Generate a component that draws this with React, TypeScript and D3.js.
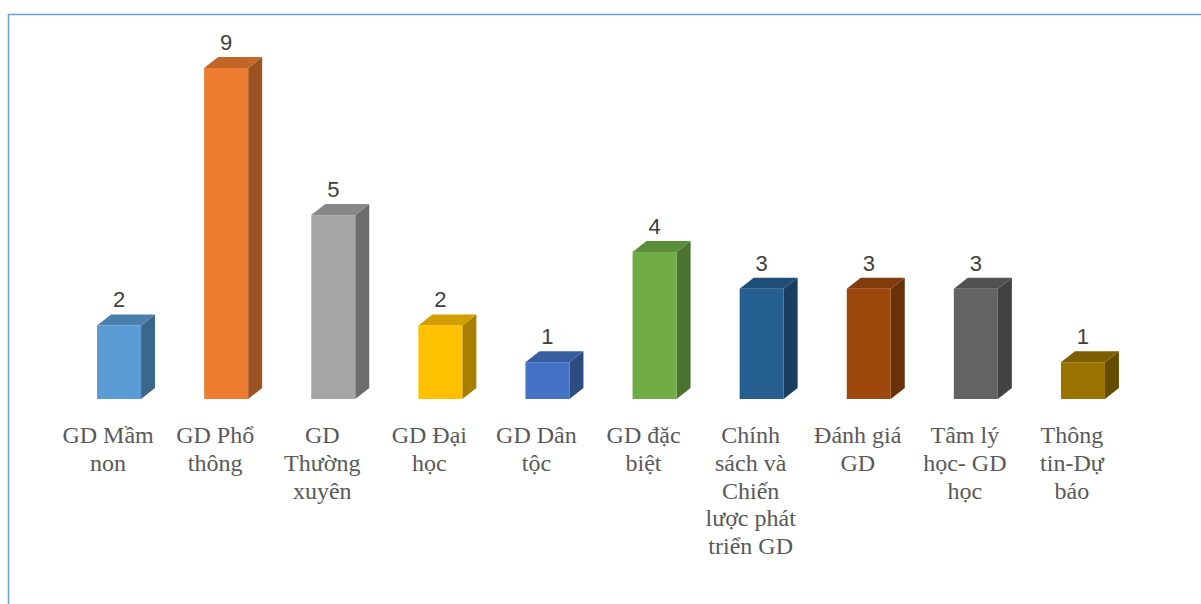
import React from 'react';
import { scaleBand, scaleLinear, color } from 'd3';

// categories (each label split in lines as it wraps in the chart)
const categories = [
  'GD Mầm non',
  'GD Phổ thông',
  'GD Thường xuyên',
  'GD Đại học',
  'GD Dân tộc',
  'GD đặc biệt',
  'Chính sách và Chiến lược phát triển GD',
  'Đánh giá GD',
  'Tâm lý học- GD học',
  'Thông tin-Dự báo',
];
const labelLines = [
  ['GD Mầm', 'non'],
  ['GD Phổ', 'thông'],
  ['GD', 'Thường', 'xuyên'],
  ['GD Đại', 'học'],
  ['GD Dân', 'tộc'],
  ['GD đặc', 'biệt'],
  ['Chính', 'sách và', 'Chiến', 'lược phát', 'triển GD'],
  ['Đánh giá', 'GD'],
  ['Tâm lý', 'học- GD', 'học'],
  ['Thông', 'tin-Dự', 'báo'],
];
const values = [2, 9, 5, 2, 1, 4, 3, 3, 3, 1];
const colors = [
  '#5B9BD5', '#ED7D31', '#A5A5A5', '#FFC000', '#4472C4',
  '#70AD47', '#255E91', '#9E480E', '#636363', '#997300',
];

const W = 1201;
const H = 604;
const DX = 14;
const DY = 11;
const BAR_W = 44;

export default function App() {
  const x = scaleBand<string>().domain(categories).range([65.5, 1136.5]);
  const y = scaleLinear().domain([0, 9]).range([399, 68]);

  return (
    <div style={{ position: 'fixed', left: 0, top: 0 }}>
      <svg width={W} height={H} style={{ display: 'block', background: '#fff' }}>
        <rect x={8.5} y={14.5} width={1200} height={620} fill="none" stroke="#6A9FD8" strokeWidth={1.5} />
        {categories.map((c, i) => {
          const cx = (x(c) as number) + x.bandwidth() / 2;
          const x0 = cx - BAR_W / 2;
          const x1 = cx + BAR_W / 2;
          const yT = y(values[i]);
          const yB = y(0);
          const base = colors[i];
          const top = color(base)!.darker(0.55).toString();
          const side = color(base)!.darker(1.15).toString();
          return (
            <g key={c}>
              <polygon
                points={`${x1},${yT} ${x1 + DX},${yT - DY} ${x1 + DX},${yB - DY} ${x1},${yB}`}
                fill={side}
              />
              <polygon
                points={`${x0},${yT} ${x0 + DX},${yT - DY} ${x1 + DX},${yT - DY} ${x1},${yT}`}
                fill={top}
              />
              <rect x={x0} y={yT} width={BAR_W} height={yB - yT} fill={base} />
              <text
                x={cx}
                y={yT - DY - 7}
                textAnchor="middle"
                fontFamily="'Liberation Sans', Arial, sans-serif"
                fontSize={22}
                fill="#404040"
              >
                {values[i]}
              </text>
              <text
                x={cx - 11}
                y={443}
                textAnchor="middle"
                fontFamily="'Liberation Serif', 'Times New Roman', serif"
                fontSize={24}
                fill="#595959"
              >
                {labelLines[i].map((l, j) => (
                  <tspan key={j} x={cx - 11} dy={j === 0 ? 0 : 27.8}>
                    {l}
                  </tspan>
                ))}
              </text>
            </g>
          );
        })}
      </svg>
    </div>
  );
}
